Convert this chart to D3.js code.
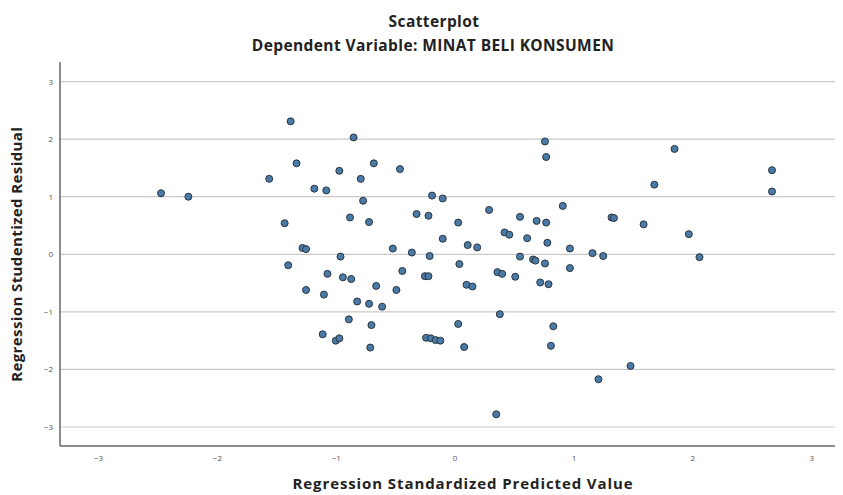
<!DOCTYPE html>
<html>
<head>
<meta charset="utf-8">
<script src="https://cdn.jsdelivr.net/npm/d3@7"></script>
<style>
  body { margin: 0; background: #fff; }
  svg { display: block; }
</style>
</head>
<body>
<div id="chart"></div>
<script>
// standardized predicted value (x) and studentized residual (y)
const predicted = [
  -2.47, -2.24, -1.56, -1.38, -1.33, -1.18, -1.08, -1.43, -1.28, -1.25,
  -1.40, -1.07, -1.25, -1.10, -1.11, -0.85, -0.68, -0.97, -0.79, -0.46,
  -0.77, -0.19, -0.10, -0.88, -0.72, -0.32, -0.22, 0.03, 0.29, 0.55,
  0.69, 0.77, 0.91, 0.76, 0.77, -0.10, 0.11, 0.19, 0.42, 0.46,
  0.61, 0.78, 0.97, -0.52, -0.36, -0.21, -0.96, 0.55, 0.66, 0.68,
  0.04, 0.76, 0.97, -0.94, -0.87, -0.66, -0.44, -0.25, -0.22, 0.10,
  0.15, 0.36, 0.40, 0.51, 0.72, 0.79, -0.49, -0.82, -0.72, -0.61,
  0.38, -0.89, -0.70, 0.03, 0.83, -1.00, -0.97, -0.24, -0.20, -0.16,
  -0.12, -0.71, 0.08, 0.81, 0.35, 1.85, 2.67, 2.67, 1.68, 1.32,
  1.34, 1.59, 1.97, 1.16, 1.25, 2.06, 1.48, 1.21
];
const residual = [
  1.06, 1.00, 1.31, 2.31, 1.58, 1.14, 1.11, 0.54, 0.11, 0.09,
  -0.19, -0.34, -0.62, -0.70, -1.39, 2.03, 1.58, 1.45, 1.31, 1.48,
  0.93, 1.02, 0.97, 0.64, 0.56, 0.70, 0.67, 0.55, 0.77, 0.65,
  0.58, 0.55, 0.84, 1.96, 1.69, 0.27, 0.16, 0.12, 0.38, 0.34,
  0.28, 0.20, 0.10, 0.10, 0.03, -0.03, -0.04, -0.04, -0.09, -0.11,
  -0.17, -0.16, -0.24, -0.40, -0.43, -0.55, -0.29, -0.38, -0.38, -0.53,
  -0.56, -0.31, -0.34, -0.39, -0.49, -0.52, -0.62, -0.82, -0.86, -0.91,
  -1.04, -1.13, -1.23, -1.21, -1.25, -1.50, -1.46, -1.45, -1.46, -1.49,
  -1.50, -1.62, -1.61, -1.59, -2.78, 1.83, 1.46, 1.09, 1.21, 0.64,
  0.63, 0.52, 0.35, 0.02, -0.03, -0.05, -1.94, -2.17
];
const xTicks = [-3, -2, -1, 0, 1, 2, 3];
const yTicks = [-3, -2, -1, 0, 1, 2, 3];

const title = 'Scatterplot';
const subtitle = 'Dependent Variable: MINAT BELI KONSUMEN';
const xLabel = 'Regression Standardized Predicted Value';
const yLabel = 'Regression Studentized Residual';

const width = 843, height = 495;
const plot = { left: 60, right: 835, top: 62, bottom: 446 };
const font = '"Open Sans", "Liberation Sans", sans-serif';

const svg = d3.select('#chart')
  .append('svg')
  .attr('width', width)
  .attr('height', height)
  .style('font-family', font);

const x = d3.scaleLinear().domain([-3.32, 3.2]).range([plot.left, plot.right]);
const y = d3.scaleLinear().domain([-3.33, 3.34]).range([plot.bottom, plot.top]);

// horizontal gridlines
svg.append('g')
  .selectAll('line')
  .data(yTicks)
  .join('line')
  .attr('x1', plot.left)
  .attr('x2', plot.right)
  .attr('y1', d => y(d))
  .attr('y2', d => y(d))
  .attr('stroke', '#c9c9c9')
  .attr('stroke-width', 1.2);

// axes
const xAxis = svg.append('g')
  .attr('transform', `translate(0,${plot.bottom})`)
  .call(d3.axisBottom(x).tickValues(xTicks).tickSize(0).tickPadding(9).tickFormat(d3.format('d')));
const yAxis = svg.append('g')
  .attr('transform', `translate(${plot.left},0)`)
  .call(d3.axisLeft(y).tickValues(yTicks).tickSize(0).tickPadding(7).tickFormat(d3.format('d')));

[xAxis, yAxis].forEach(g => {
  g.select('.domain').attr('stroke', '#666').attr('stroke-width', 1.5);
  g.selectAll('text').attr('fill', '#555').style('font-size', '8px').style('font-family', font);
});
xAxis.select('.domain').attr('d', `M${plot.left},0H${plot.right}`);
yAxis.select('.domain').attr('d', `M0,${plot.top}V${plot.bottom}`);

// points
svg.append('g')
  .selectAll('circle')
  .data(predicted.map((p, i) => ({ p, r: residual[i] })))
  .join('circle')
  .attr('cx', d => x(d.p))
  .attr('cy', d => y(d.r))
  .attr('r', 3.5)
  .attr('fill', '#4a7aa6')
  .attr('stroke', '#2a3440')
  .attr('stroke-width', 1);

// titles
const bold = sel => sel
  .attr('text-anchor', 'middle')
  .style('font-size', '15.5px')
  .style('font-weight', 'bold')
  .style('letter-spacing', '0.4px')
  .attr('fill', '#222');

svg.append('text').attr('x', 434).attr('y', 27).call(bold).text(title);
svg.append('text').attr('x', 433).attr('y', 51).call(bold).text(subtitle);

svg.append('text').attr('x', 463).attr('y', 489).call(bold)
  .style('font-size', '15px').style('letter-spacing', '0.9px').text(xLabel);
svg.append('text')
  .attr('transform', `translate(22,${y(0)}) rotate(-90)`)
  .call(bold).style('font-size', '15px')
  .text(yLabel);
</script>
</body>
</html>
